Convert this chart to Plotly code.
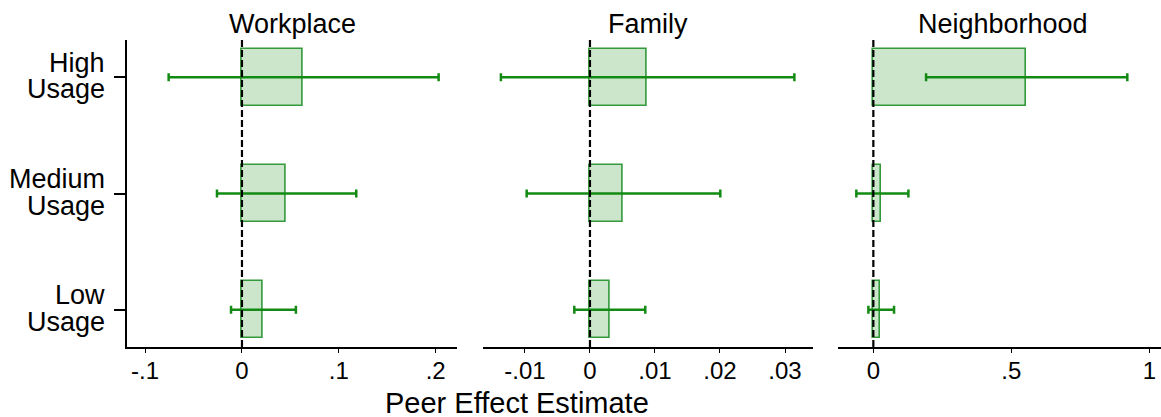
import plotly.graph_objects as go

# ---- data ----
categories = ["Low Usage", "Medium Usage", "High Usage"]
cat_lines = [["Low", "Usage"], ["Medium", "Usage"], ["High", "Usage"]]
panels = ["Workplace", "Family", "Neighborhood"]

workplace_est = [0.0216, 0.0454, 0.0625]
workplace_lo = [-0.0113, -0.0258, -0.0757]
workplace_hi = [0.0557, 0.118, 0.203]

family_est = [0.00297, 0.00508, 0.00877]
family_lo = [-0.00241, -0.00974, -0.0137]
family_hi = [0.00851, 0.02005, 0.03144]

neighborhood_est = [0.0254, 0.029, 0.553]
neighborhood_lo = [-0.018, -0.0616, 0.191]
neighborhood_hi = [0.075, 0.127, 0.920]

tickvals = [[-0.1, 0, 0.1, 0.2], [-0.01, 0, 0.01, 0.02, 0.03], [0, 0.5, 1]]
ticktext = [["-.1", "0", ".1", ".2"], ["-.01", "0", ".01", ".02", ".03"], ["0", ".5", "1"]]
x_label = "Peer Effect Estimate"

# ---- layout constants ----
W, H = 1161, 417
FONT = "Liberation Sans, Arial, sans-serif"
BAR_FILL = "#cce6cc"
BAR_LINE = "#33993a"
ERR = "#138a13"

xdom_px = [(126.7, 457.3), (482.7, 812.7), (838.0, 1161.0)]
xranges = [[-0.119, 0.2223], [-0.0165, 0.03426], [-0.128, 1.042]]
ydom = [(H - 347) / H, (H - 40) / H]
yrange = [-0.32, 2.32]

ests = [workplace_est, family_est, neighborhood_est]
los = [workplace_lo, family_lo, neighborhood_lo]
his = [workplace_hi, family_hi, neighborhood_hi]

fig = go.Figure()
ypos = list(range(len(categories)))

for i in range(3):
    e, lo, hi = ests[i], los[i], his[i]
    plus = [h - v for h, v in zip(hi, e)]
    minus = [v - l for v, l in zip(e, lo)]
    sfx = "" if i == 0 else str(i + 1)
    fig.add_trace(go.Bar(
        x=e, y=ypos, base=0, orientation="h", width=0.49,
        marker=dict(color=BAR_FILL, line=dict(color=BAR_LINE, width=1.6)),
        error_x=dict(type="data", array=plus, arrayminus=minus, symmetric=False,
                     color=ERR, thickness=2.5, width=4),
        xaxis="x" + sfx, yaxis="y" + sfx, showlegend=False,
        hovertext=categories,
    ))
    # dashed zero line
    fig.add_shape(type="line", xref="x" + sfx, yref="y" + sfx + " domain",
                  x0=0, x1=0, y0=0, y1=1, layer="above",
                  line=dict(color="black", width=2.2, dash="7px,3px"))
    x0p, x1p = xdom_px[i]
    xa = dict(domain=[x0p / W, x1p / W], range=xranges[i],
              tickvals=tickvals[i], ticktext=ticktext[i],
              showline=True, linecolor="black", linewidth=1.5,
              ticks="outside", ticklen=4, tickwidth=1.3, tickcolor="black",
              showgrid=False, zeroline=False, fixedrange=True, automargin=False,
              tickfont=dict(family=FONT, size=24, color="black"),
              ticklabelstandoff=-3,
              anchor="y" + sfx)
    ya = dict(domain=list(ydom), range=yrange, showgrid=False, zeroline=False,
              anchor="x" + sfx, fixedrange=True, showticklabels=False,
              automargin=False, tickvals=ypos)
    if i == 0:
        ya.update(showline=True, linecolor="black", linewidth=1.5,
                  ticks="outside", ticklen=11, tickwidth=1.5, tickcolor="black")
    else:
        ya.update(showline=False, ticks="")
    fig.update_layout(**{"xaxis" + sfx: xa, "yaxis" + sfx: ya})
    # panel title
    cx = (x0p + x1p) / 2 if i < 2 else 1003
    fig.add_annotation(text=panels[i], xref="paper", yref="paper",
                       x=cx / W, y=1 - 24 / H, xanchor="center", yanchor="middle",
                       showarrow=False, font=dict(family=FONT, size=27, color="black"))

# category labels (two lines each, tight spacing)
for k, lines in enumerate(cat_lines):
    for j, t in enumerate(lines):
        fig.add_annotation(text=t, xref="paper", yref="y", x=107 / W, y=ypos[k],
                           yshift=14.5 if j == 0 else -12, xanchor="right", yanchor="middle",
                           showarrow=False, font=dict(family=FONT, size=27, color="black"))

fig.add_annotation(text=x_label, xref="paper", yref="paper",
                   x=516.7 / W, y=(H - 403) / H, xanchor="center", yanchor="middle",
                   showarrow=False, font=dict(family=FONT, size=29, color="black"))

fig.update_layout(width=W, height=H, margin=dict(l=0, r=0, t=0, b=0),
                  paper_bgcolor="white", plot_bgcolor="white",
                  barmode="overlay", bargap=0)

fig.write_html("out.html", config={"displayModeBar": False},
               post_script="document.body.style.margin='0';document.body.style.overflow='hidden';")
